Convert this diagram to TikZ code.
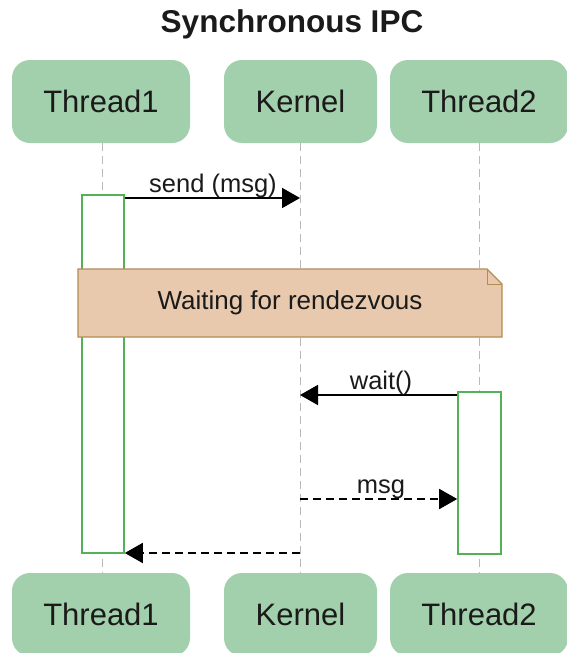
\documentclass[tikz,border=0pt]{standalone}
\usepackage{fontspec}
\setmainfont{Liberation Sans}
\usetikzlibrary{arrows.meta}
\definecolor{actorfill}{HTML}{A3D0AC}
\definecolor{actline}{HTML}{55B05A}
\definecolor{notefill}{HTML}{E8C9AD}
\definecolor{noteline}{HTML}{B38B55}
\definecolor{lifegray}{HTML}{B9B9B9}
\definecolor{ink}{HTML}{1A1A1A}
\tikzset{
  actor/.style={draw=none, fill=actorfill, rounded corners=18pt, text=ink,
    font=\fontsize{31}{36}\selectfont, inner sep=0pt},
  lifeline/.style={draw=lifegray, line width=1pt, dash pattern=on 8pt off 5pt},
  activation/.style={draw=actline, fill=white, line width=1.6pt},
  msgline/.style={draw=black, line width=1.7pt, -{Triangle[length=18pt,width=20pt]}},
  replyline/.style={msgline, dash pattern=on 8pt off 5pt},
  msglabel/.style={font=\fontsize{25.5}{30}\selectfont, text=ink, anchor=base, inner sep=0pt},
}
\begin{document}
\begin{tikzpicture}[x=1pt, y=-1pt]
\useasboundingbox (0,0) rectangle (567,653);

% title
\node[font=\bfseries\fontsize{31.5}{36}\selectfont, text=ink] (title) at (292,24) {Synchronous IPC};

% participant heads
\node[actor, minimum width=178pt, minimum height=83pt] (t1top) at (101,101.5) {Thread1};
\node[actor, minimum width=153pt, minimum height=83pt] (kntop) at (300.5,101.5) {Kernel};
\node[actor, minimum width=178pt, minimum height=83pt] (t2top) at (479,101.5) {Thread2};

% participant feet
\node[actor, minimum width=178pt, minimum height=83pt] (t1bot) at (101,614.5) {Thread1};
\node[actor, minimum width=153pt, minimum height=83pt] (knbot) at (300.5,614.5) {Kernel};
\node[actor, minimum width=178pt, minimum height=83pt] (t2bot) at (479,614.5) {Thread2};

% lifelines
\draw[lifeline] (102,143) coordinate (l1a) -- (102,573) coordinate (l1b);
\draw[lifeline] (300,143) coordinate (lka) -- (300,573) coordinate (lkb);
\draw[lifeline] (479,143) coordinate (l2a) -- (479,573) coordinate (l2b);

% activation bars
\node[activation, minimum width=42pt, minimum height=358pt, inner sep=0pt] (act1) at (103,374) {};
\node[activation, minimum width=43pt, minimum height=162pt, inner sep=0pt] (act2) at (479.5,473) {};

% note across the participants
\path[draw=noteline, fill=notefill, line width=1.2pt]
  (78,269) -- (487,269) -- (502,284) -- (502,337) -- (78,337) -- cycle;
\draw[noteline, line width=1pt] (487,269) -- (487,284) -- (502,284);
\node[font=\fontsize{26}{30}\selectfont, text=ink] (note) at (290,303) {Waiting for rendezvous};

% messages
\coordinate (sendK) at (300,198);
\draw[msgline] (act1.east |- sendK) -- (sendK);
\node[msglabel] (lsend) at (213,192) {send (msg)};

\coordinate (waitK) at (300,395);
\draw[msgline] (act2.west |- waitK) -- (waitK);
\node[msglabel] (lwait) at (381,389) {wait()};

\coordinate (msgK) at (300,499);
\draw[replyline] (msgK) -- (act2.west |- msgK);
\node[msglabel] (lmsg) at (381,493) {msg};

\coordinate (retK) at (300,553);
\draw[replyline] (retK) -- (act1.east |- retK);
\end{tikzpicture}
\end{document}
